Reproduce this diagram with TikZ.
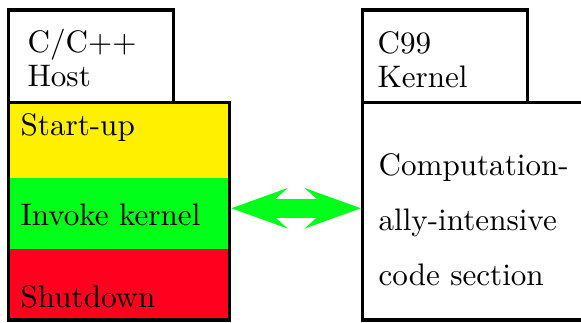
\documentclass[tikz,border=0pt]{standalone}
\usepackage{amsmath}
\usepackage{tikz}
\usetikzlibrary{arrows.meta}

\definecolor{startyellow}{RGB}{255,240,0}
\definecolor{invokegreen}{RGB}{0,255,25}
\definecolor{shutred}{RGB}{255,0,30}

\tikzset{
  box/.style={draw, line width=1pt, minimum width=2.5cm, minimum height=2.455cm},
  tabbox/.style={draw, line width=1pt, minimum width=1.86cm, minimum height=1.048cm},
  txt/.style={anchor=base west, inner sep=0pt, align=left},
  bigarrow/.style={invokegreen, line width=0.214cm,
    {Stealth[length=0.63cm, width=0.45cm, inset=0.25cm]}-{Stealth[length=0.63cm, width=0.45cm, inset=0.25cm]}}
}

\begin{document}
\begin{tikzpicture}
\useasboundingbox (-0.096,-0.023) rectangle (6.469,3.616);

%% host side: coloured stages
\fill[startyellow] (0,1.605) rectangle (2.5,2.455);
\fill[invokegreen] (0,0.802) rectangle (2.5,1.605);
\fill[shutred] (0,0) rectangle (2.5,0.802);

%% boxes
\node[tabbox] (hosttab) at (0.93,2.979) {};
\node[box] (host) at (1.25,1.2275) {};
\node[tabbox] (kerneltab) at (4.93,2.979) {};
\node[box] (kernel) at (5.25,1.2275) {};

%% labels (base = last line)
\node[txt] (hostname) at (0.209,2.633) {C/C++\\[-1pt]Host};
\node[txt] (startup) at (0.13,2.09) {Start-up};
\node[txt] (invoke) at (0.13,1.073) {Invoke kernel};
\node[txt] (shutdown) at (0.13,0.136) {Shutdown};
\node[txt] (kernelname) at (4.164,2.622) {C99\\[-1pt]Kernel};
\node[txt] (compute) at (4.175,0.395) {Computation-\\[5.6pt]ally-intensive\\[5.6pt]code section};

%% link
\draw[bigarrow] ([yshift=1pt]host.east) -- ([yshift=1pt]kernel.west);

\end{tikzpicture}
\end{document}
